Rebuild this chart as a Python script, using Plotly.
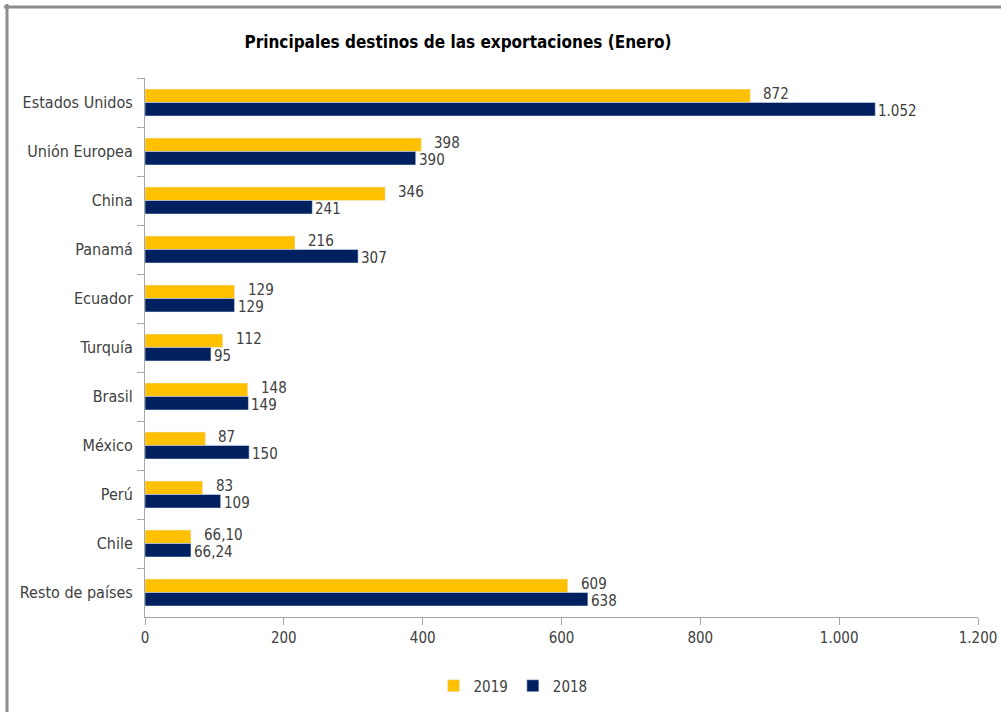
import plotly.graph_objects as go

categories = ["Estados Unidos", "Unión Europea", "China", "Panamá", "Ecuador",
              "Turquía", "Brasil", "México", "Perú", "Chile", "Resto de países"]
values_2019 = [872, 398, 346, 216, 129, 112, 148, 87, 83, 66.10, 609]
values_2018 = [1052, 390, 241, 307, 129, 95, 149, 150, 109, 66.24, 638]
x_ticks = [0, 200, 400, 600, 800, 1000, 1200]

YELLOW = "#FFC000"
NAVY = "#002060"
FONT = "DejaVu Sans Condensed, sans-serif"
TXT = "#404040"

W, H = 1001, 712
ML, MR, MT, MB = 145, 23, 78, 95
PW, PH = W - ML - MR, H - MT - MB


def fmt(v):
    if float(v).is_integer():
        return f"{int(v):,}".replace(",", ".")
    return f"{v:.2f}".replace(".", ",")


fig = go.Figure()
fig.add_trace(go.Bar(name="2019", y=categories, x=values_2019, orientation="h",
                     marker=dict(color=YELLOW)))
fig.add_trace(go.Bar(name="2018", y=categories, x=values_2018, orientation="h",
                     marker=dict(color=NAVY)))

# data labels
for c, v in zip(categories, values_2019):
    fig.add_annotation(x=v, y=c, text=fmt(v), showarrow=False, xanchor="left",
                       yanchor="middle", xshift=11, yshift=8.5,
                       font=dict(family=FONT, size=15, color=TXT))
for c, v in zip(categories, values_2018):
    fig.add_annotation(x=v, y=c, text=fmt(v), showarrow=False, xanchor="left",
                       yanchor="middle", xshift=1, yshift=-8.5,
                       font=dict(family=FONT, size=15, color=TXT))

# chart frame (top and left edges visible)
fx = (7 - ML) / PW
fy = 1 + (MT - 7) / PH
fig.add_shape(type="line", xref="paper", yref="paper", x0=(4 - ML) / PW,
              x1=1 + MR / PW, y0=fy, y1=fy,
              line=dict(color="#8C8C8C", width=3))
fig.add_shape(type="line", xref="paper", yref="paper", x0=fx, x1=fx,
              y0=1 + (MT - 4) / PH, y1=-MB / PH,
              line=dict(color="#8C8C8C", width=3))

fig.update_layout(
    width=W, height=H,
    margin=dict(l=ML, r=MR, t=MT, b=MB, autoexpand=False),
    paper_bgcolor="white", plot_bgcolor="white",
    separators=",.",
    barmode="group", bargap=0.45, bargroupgap=0,
    title=dict(text="<b>Principales destinos de las exportaciones (Enero)</b>",
               x=458 / W, xref="container", xanchor="center",
               y=1 - 42 / H, yref="container", yanchor="middle",
               font=dict(family=FONT, size=17, color="#000000")),
    legend=dict(orientation="h", x=(513 - ML) / PW, xanchor="center",
                y=-(686 - MT - PH) / PH, yanchor="middle",
                font=dict(family=FONT, size=15, color=TXT),
                traceorder="normal", itemwidth=30),
    showlegend=True,
    font=dict(family=FONT, color=TXT),
)
fig.update_xaxes(range=[0, 1200], tickvals=x_ticks, tickformat=",d",
                 automargin=False,
                 showgrid=False, zeroline=False, showline=True,
                 linecolor="#A6A6A6", linewidth=1, ticks="outside",
                 ticklen=7, tickcolor="#A6A6A6",
                 tickfont=dict(family=FONT, size=15, color=TXT))
fig.update_yaxes(autorange="reversed", showgrid=False, showline=True,
                 automargin=False,
                 linecolor="#A6A6A6", linewidth=1, ticks="outside",
                 ticklen=7, tickcolor="#A6A6A6", tickson="boundaries",
                 ticklabelstandoff=8,
                 tickfont=dict(family=FONT, size=16, color=TXT))

fig.write_html("out.html",
               config={"displayModeBar": False},
               post_script="document.body.style.margin='0';"
                           "document.body.style.overflow='hidden';")
